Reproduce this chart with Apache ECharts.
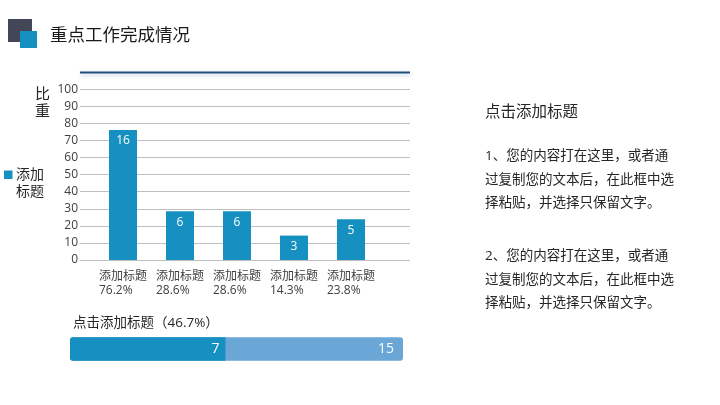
<!DOCTYPE html>
<html>
<head>
<meta charset="utf-8">
<style>html,body{margin:0;padding:0;background:#fff;}#c{width:720px;height:405px;}</style>
<script src="https://cdn.jsdelivr.net/npm/echarts@6/dist/echarts.min.js"></script>
</head>
<body>
<div id="c"></div>
<script>
const categories = ['添加标题', '添加标题', '添加标题', '添加标题', '添加标题'];
const percents = [76.2, 28.6, 28.6, 14.3, 23.8];
const counts = [16, 6, 6, 3, 5];
const seriesName = '添加标题';
const progressLabel = '进度';
const progressDone = 7;
const progressTotal = 15;
const progressPct = 46.7;

const FONT = "'Open Sans','Noto Sans CJK SC',sans-serif";
const BLUE = '#1690C1';
const chart = echarts.init(document.getElementById('c'));
chart.setOption({
  backgroundColor: '#fff',
  textStyle: { fontFamily: FONT },
  animation: false,
  grid: [
    { left: 80, top: 89.3, width: 330, height: 170.7 },
    { left: 94.5, top: 89.3, width: 285, height: 170.7 },
    { left: 70, top: 337.3, width: 333, height: 23.4 }
  ],
  xAxis: [
    { gridIndex: 0, type: 'value', show: false, min: 0, max: 1 },
    { gridIndex: 1, type: 'category', data: categories,
      axisLine: { show: false }, axisTick: { show: false },
      axisLabel: {
        margin: 10, interval: 0,
        formatter: (v, i) => `{a|${v}}\n{a|${percents[i]}%}`,
        rich: { a: { align: 'left', fontSize: 12, lineHeight: 13.5, color: '#404040', fontFamily: FONT } }
      } },
    { gridIndex: 2, type: 'value', show: false, min: 0, max: progressTotal }
  ],
  yAxis: [
    { gridIndex: 0, type: 'value', min: 0, max: 100, interval: 10,
      axisLine: { show: false }, axisTick: { show: false },
      axisLabel: { margin: 2, fontSize: 12, color: '#404040', fontFamily: FONT },
      splitLine: { lineStyle: { color: '#BFBFBF', width: 1 } } },
    { gridIndex: 1, type: 'value', min: 0, max: 100, show: false, splitLine: { show: false } },
    { gridIndex: 2, type: 'category', data: [progressLabel], show: false }
  ],
  series: [
    { name: seriesName, type: 'bar', xAxisIndex: 1, yAxisIndex: 1, data: percents,
      barWidth: 28, itemStyle: { color: BLUE },
      label: { show: true, position: 'insideTop', distance: 5, color: '#fff', fontSize: 12,
        fontFamily: FONT, formatter: p => counts[p.dataIndex] } },
    { type: 'bar', xAxisIndex: 2, yAxisIndex: 2, data: [progressTotal], barWidth: 23.4,
      itemStyle: { color: '#6AA7D7', borderRadius: 3 }, z: 2,
      label: { show: true, position: 'insideRight', distance: 9, color: '#fff', fontSize: 14, fontFamily: FONT } },
    { type: 'bar', xAxisIndex: 2, yAxisIndex: 2, data: [progressDone], barWidth: 23.4, barGap: '-100%',
      itemStyle: { color: BLUE, borderRadius: [3, 0, 0, 3] }, z: 3,
      label: { show: true, position: 'insideRight', distance: 6, color: '#fff', fontSize: 14, fontFamily: FONT } }
  ],
  graphic: [
    { type: 'rect', shape: { x: 8, y: 19, width: 24, height: 23 }, style: { fill: '#434656' } },
    { type: 'rect', shape: { x: 20, y: 31, width: 17, height: 17 }, style: { fill: BLUE } },
    { type: 'text', x: 50, y: 36, style: { text: '重点工作完成情况', fontSize: 17.5, fill: '#1a1a1a',
        fontFamily: FONT, verticalAlign: 'middle' } },
    { type: 'line', shape: { x1: 80, y1: 72.5, x2: 410, y2: 72.5 },
      style: { stroke: '#1F4E79', lineWidth: 2, shadowColor: 'rgba(90,120,160,0.35)', shadowBlur: 4, shadowOffsetY: 2 } },
    { type: 'text', x: 42.5, y: 94, style: { text: '比\n重', fontSize: 15, lineHeight: 17, fill: '#262626',
        fontFamily: FONT, align: 'center', verticalAlign: 'top' }, top: 86, left: 35 },
    { type: 'rect', shape: { x: 4, y: 170.5, width: 8.5, height: 8.5 }, style: { fill: BLUE } },
    { type: 'text', x: 16, y: 166.5, style: { text: '添加\n标题', fontSize: 14, lineHeight: 17, fill: '#262626',
        fontFamily: FONT, verticalAlign: 'top' } },
    { type: 'text', x: 73, y: 322.7, style: { text: '点击添加标题（' + progressPct + '%）', fontSize: 13.5, fill: '#262626',
        fontFamily: FONT, verticalAlign: 'middle' } },
    { type: 'text', x: 485, y: 113, style: { text: '点击添加标题', fontSize: 15.5, fill: '#262626',
        fontFamily: FONT, verticalAlign: 'middle' } },
    { type: 'text', x: 485, y: 145, style: { text: '1、您的内容打在这里，或者通\n过复制您的文本后，在此框中选\n择粘贴，并选择只保留文字。',
        fontSize: 13.5, lineHeight: 23.3, fill: '#262626', fontFamily: FONT, verticalAlign: 'top' } },
    { type: 'text', x: 485, y: 245, style: { text: '2、您的内容打在这里，或者通\n过复制您的文本后，在此框中选\n择粘贴，并选择只保留文字。',
        fontSize: 13.5, lineHeight: 23.3, fill: '#262626', fontFamily: FONT, verticalAlign: 'top' } }
  ]
});
</script>
</body>
</html>
